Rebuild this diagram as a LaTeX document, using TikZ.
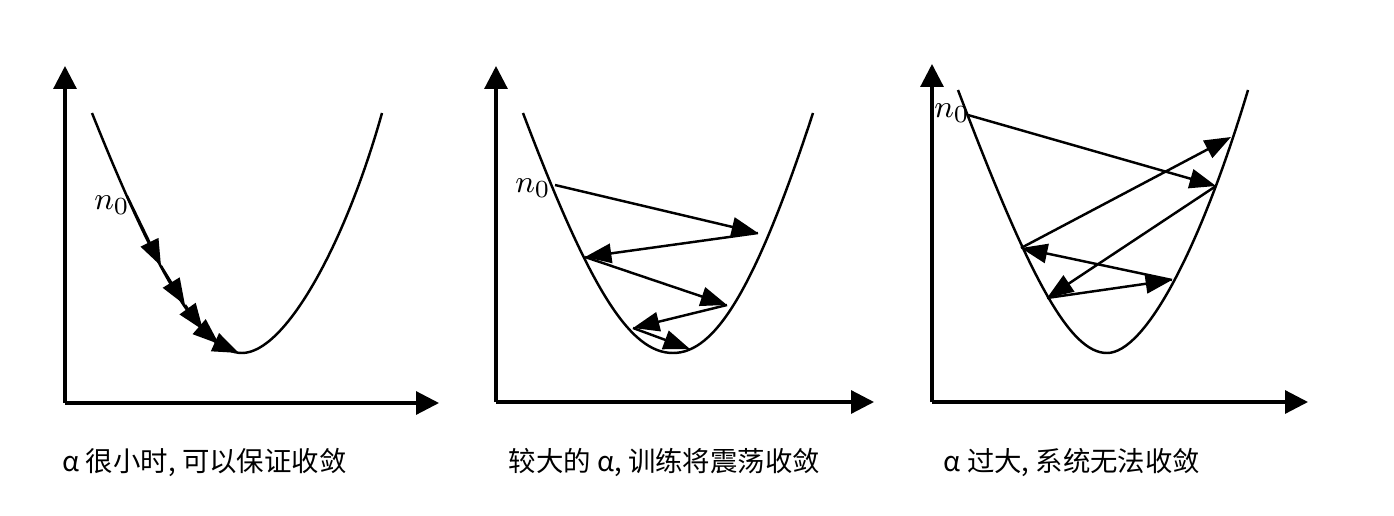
\documentclass[tikz,border=0pt]{standalone}
\usepackage{fontspec}
\newfontfamily\cjk{Noto Sans CJK SC}
\usetikzlibrary{arrows.meta}
\tikzset{
  axis/.style={line width=0.9pt, -{Triangle[length=6.5pt,width=6.5pt]}},
  curve/.style={line width=0.7pt},
  jump/.style={line width=0.7pt, -{Triangle[length=7.5pt,width=5.5pt]}},
  start/.style={font=\fontsize{9.5}{11}\selectfont},
  caption/.style={anchor=west, inner sep=0pt, font=\cjk\fontsize{7.8}{9}\selectfont},
}
\begin{document}
\begin{tikzpicture}[x=0.01cm, y=-0.01cm]
        \useasboundingbox (0, 0) rectangle (1394, 515);
        \begin{scope}
        \coordinate (o1) at (65, 403);
        \coordinate (y1) at (65, 66);
        \coordinate (x1) at (439, 403);
        \draw[axis] (o1)--(y1);
        \draw[axis] (o1)--(x1);
        \draw[curve] (92, 113)..controls (152, 263) and (200, 353).. (242, 353)
                     ..controls (285, 353) and (345, 245).. (382, 113);
        \coordinate (a0) at (127, 196);
        \coordinate (a1) at (161, 266);
        \coordinate (a2) at (185, 305);
        \coordinate (a3) at (203, 330);
        \coordinate (a4) at (219, 344);
        \coordinate (a5) at (239, 353);
        \draw[jump] (a0)--(a1);
        \draw[jump] (a1)--(a2);
        \draw[jump] (a2)--(a3);
        \draw[jump] (a3)--(a4);
        \draw[jump] (a4)--(a5);
        \node[start] (n1) at (112, 205) {$n_0$};
        \node[caption] (t1) at (62, 462) {α 很小时, 可以保证收敛};
        \end{scope}
        \begin{scope}
        \coordinate (o2) at (496, 402);
        \coordinate (y2) at (496, 66);
        \coordinate (x2) at (874, 402);
        \draw[axis] (o2)--(y2);
        \draw[axis] (o2)--(x2);
        \draw[curve] (523, 113)..controls (590, 290) and (630, 353).. (673, 353)
                     ..controls (715, 353) and (755, 290).. (813, 113);
        \coordinate (b0) at (555, 185);
        \coordinate (b1) at (758, 233);
        \coordinate (b2) at (585, 257);
        \coordinate (b3) at (727, 305);
        \coordinate (b4) at (633, 328);
        \coordinate (b5) at (690, 349);
        \draw[jump] (b0)--(b1);
        \draw[jump] (b1)--(b2);
        \draw[jump] (b2)--(b3);
        \draw[jump] (b3)--(b4);
        \draw[jump] (b4)--(b5);
        \node[start] (n2) at (533, 188) {$n_0$};
        \node[caption] (t2) at (508, 462) {较大的 α, 训练将震荡收敛};
        \end{scope}
        \begin{scope}
        \coordinate (o3) at (932, 402);
        \coordinate (y3) at (932, 64);
        \coordinate (x3) at (1308, 402);
        \draw[axis] (o3)--(y3);
        \draw[axis] (o3)--(x3);
        \draw[curve] (958, 90)..controls (1030, 280) and (1070, 353).. (1107, 353)
                     ..controls (1145, 353) and (1200, 250).. (1248, 90);
        \coordinate (c0) at (968, 115);
        \coordinate (c1) at (1216, 186);
        \coordinate (c2) at (1047, 298);
        \coordinate (c3) at (1172, 280);
        \coordinate (c4) at (1021, 248);
        \coordinate (c5) at (1231, 137);
        \draw[jump] (c0)--(c1);
        \draw[jump] (c1)--(c2);
        \draw[jump] (c2)--(c3);
        \draw[jump] (c3)--(c4);
        \draw[jump] (c4)--(c5);
        \node[start] (n3) at (952, 113) {$n_0$};
        \node[caption] (t3) at (943, 462) {α 过大, 系统无法收敛};
        \end{scope}
\end{tikzpicture}
\end{document}
